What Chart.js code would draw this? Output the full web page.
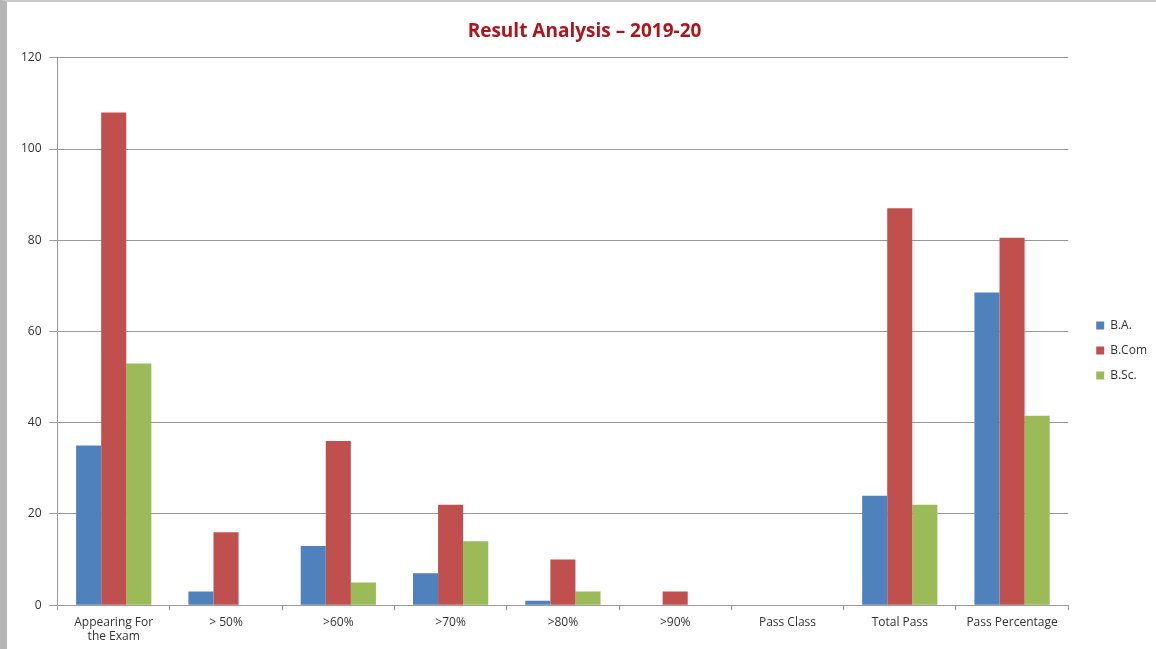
<!DOCTYPE html>
<html>
<head>
<meta charset="utf-8">
<script src="https://cdn.jsdelivr.net/npm/chart.js@4.4.0/dist/chart.umd.min.js"></script>
<style>
  html, body { margin: 0; padding: 0; background: #fff; }
  #wrap {
    position: relative;
    width: 1156px;
    height: 649px;
    box-sizing: border-box;
    border-left: 7px solid #b5b5b5;
    border-top: 2px solid #c8c8c8;
  }
</style>
</head>
<body>
<div id="wrap"><canvas id="resultChart"></canvas></div>
<script>
// kategori dan nilai per jurusan
const categories = [
    ['Appearing For', 'the Exam'],
    '> 50%',
    '>60%',
    '>70%',
    '>80%',
    '>90%',
    'Pass Class',
    'Total Pass',
    'Pass Percentage'
];
const baValues   = [35, 3, 13, 7, 1, 0, 0, 24, 68.57];
const bcomValues = [108, 16, 36, 22, 10, 3, 0, 87, 80.56];
const bscValues  = [53, 0, 5, 14, 3, 0, 0, 22, 41.51];
const yTicks = [0, 20, 40, 60, 80, 100, 120];

const tickFont = { family: '"Open Sans", sans-serif', size: 12 };

// legend dibuat lebih lebar, lalu isinya digeser ke kanan & bawah
const legendShift = {
    id: 'legendShift',
    beforeUpdate(chart) {
        const lg = chart.legend;
        if (!lg || lg._patched) return;
        const origFit = lg.fit;
        lg.fit = function () { origFit.call(this); this.width += 14; };
        lg._patched = true;
    },
    afterLayout(chart) {
        const lg = chart.legend;
        if (!lg) return;
        lg.left += 15; lg.right += 15;
        lg.top += 23; lg.bottom += 23;
    }
};

const ctx = document.getElementById('resultChart').getContext('2d');
new Chart(ctx, {
    type: 'bar',
    data: {
        labels: categories,
        datasets: [
            { label: 'B.A.', data: baValues, backgroundColor: '#4F81BD' },
            { label: 'B.Com', data: bcomValues, backgroundColor: '#C0504D' },
            { label: 'B.Sc.', data: bscValues, backgroundColor: '#9BBB59' }
        ]
    },
    plugins: [legendShift],
    options: {
        responsive: true,
        maintainAspectRatio: false,
        animation: false,
        categoryPercentage: 0.67,
        barPercentage: 1.0,
        layout: { padding: { top: 4, left: 6, right: 0, bottom: 0 } },
        plugins: {
            title: {
                display: true,
                text: 'Result Analysis \u2013 2019-20',
                color: '#B0141B',
                font: { family: '"Open Sans", sans-serif', size: 19, weight: 'bold' },
                padding: { top: 14, bottom: 15 }
            },
            legend: {
                position: 'right',
                labels: {
                    boxWidth: 8,
                    boxHeight: 8,
                    padding: 13,
                    color: '#333',
                    font: tickFont
                }
            },
            tooltip: { enabled: false }
        },
        scales: {
            x: {
                grid: {
                    offset: true,
                    drawOnChartArea: false,
                    tickLength: 5,
                    color: '#999'
                },
                border: { color: '#999' },
                ticks: { color: '#333', font: tickFont, maxRotation: 0, autoSkip: false, padding: 5 }
            },
            y: {
                min: 0,
                max: 120,
                afterBuildTicks: axis => { axis.ticks = yTicks.map(v => ({ value: v })); },
                grid: { color: '#999', tickLength: 8 },
                border: { color: '#999' },
                ticks: { color: '#333', font: tickFont, padding: 8 }
            }
        }
    }
});
</script>
</body>
</html>
